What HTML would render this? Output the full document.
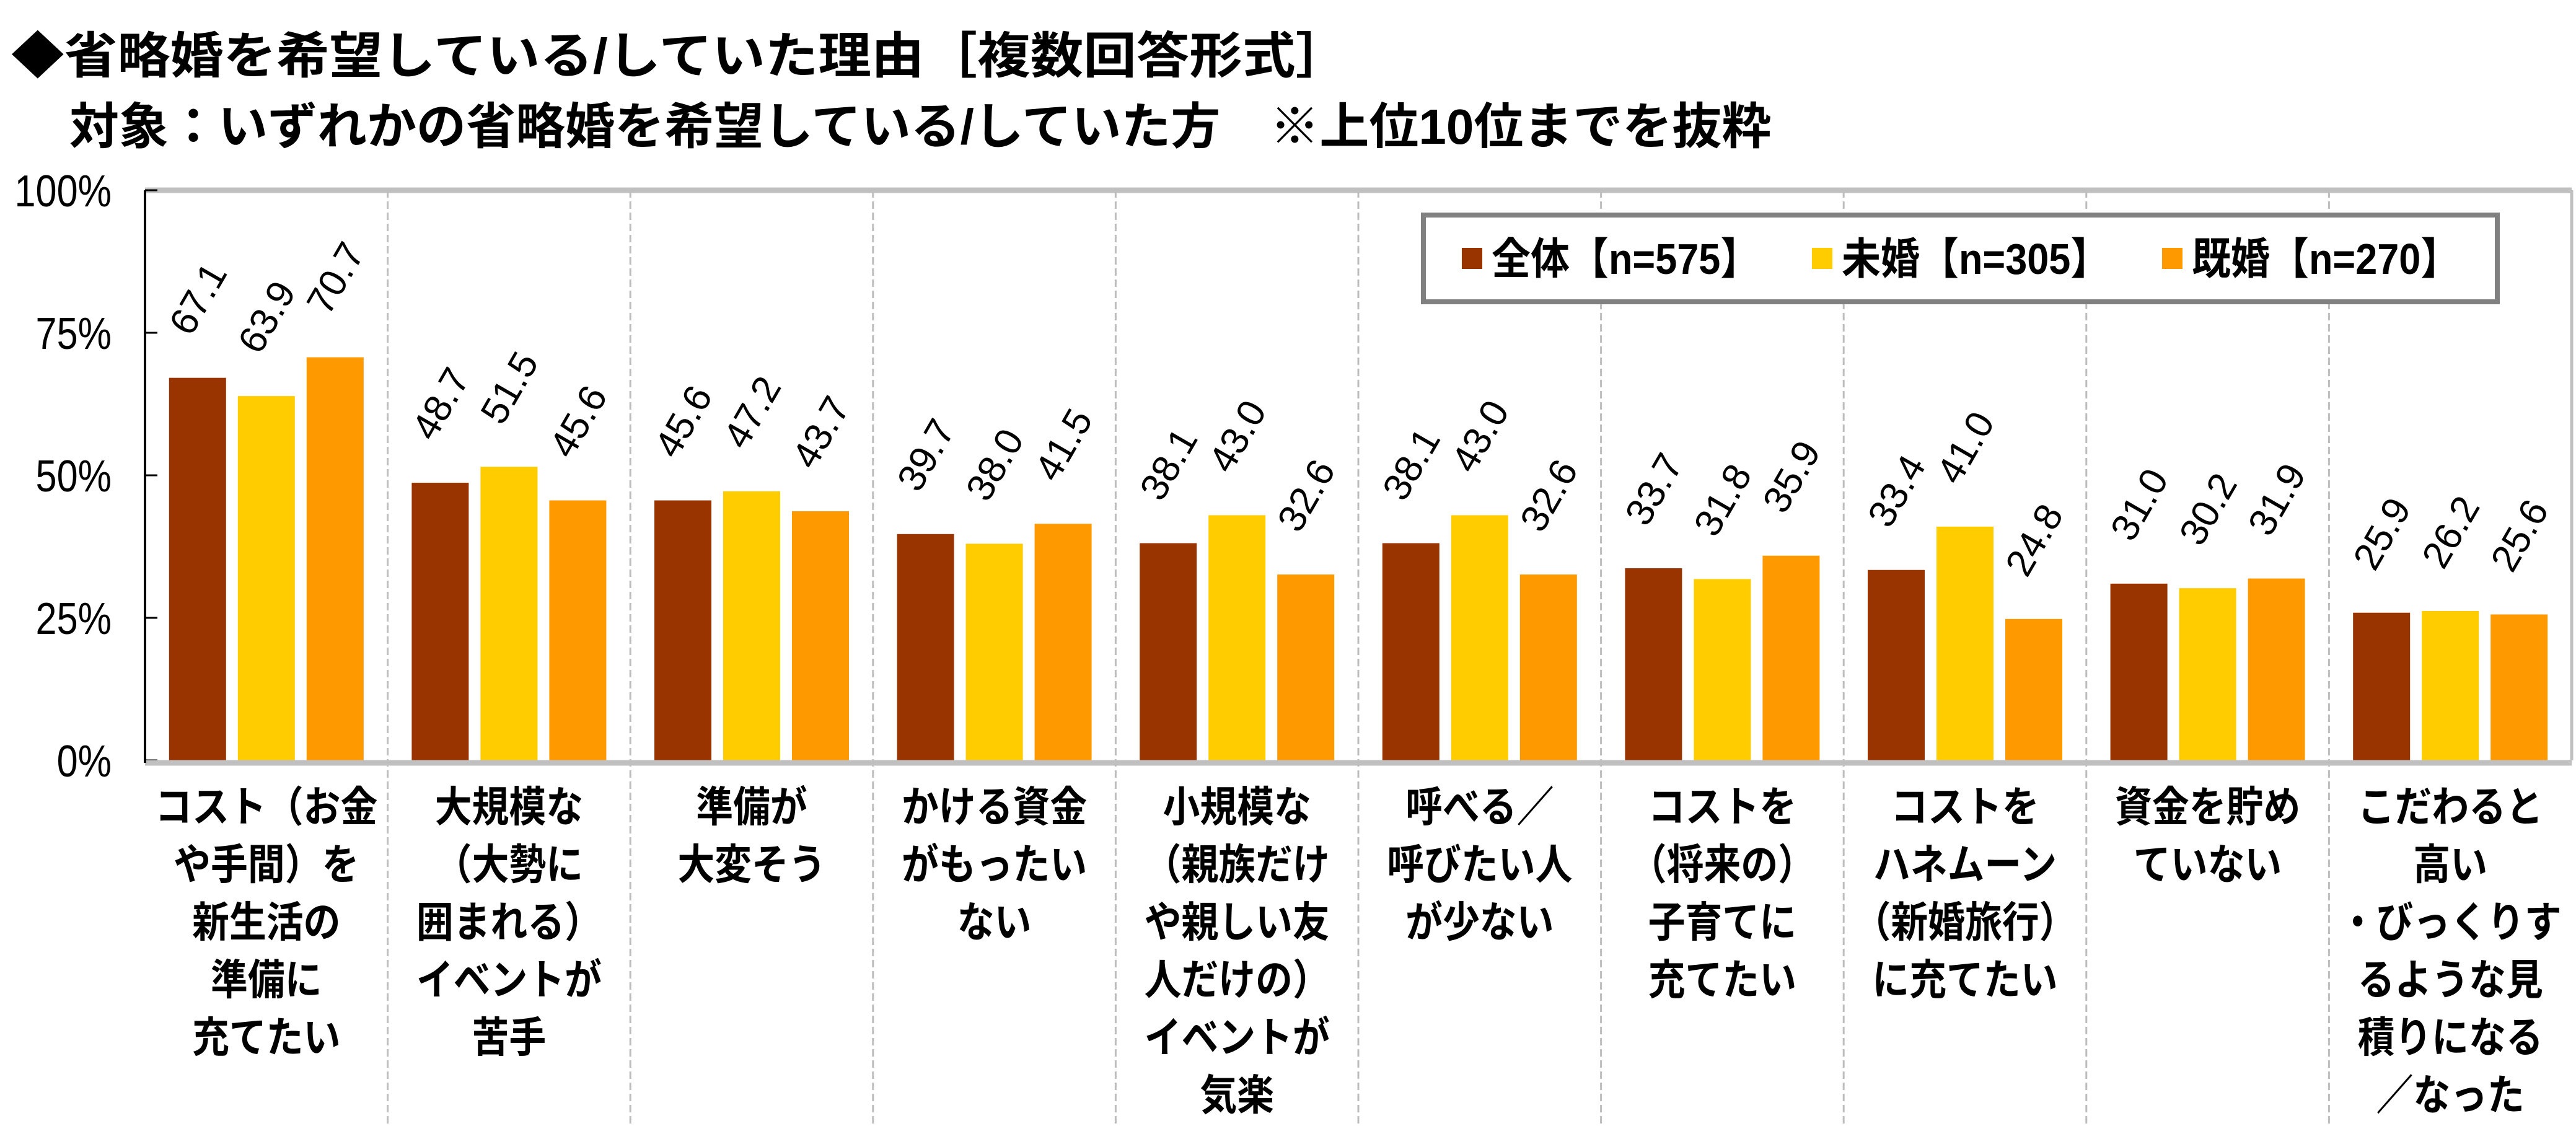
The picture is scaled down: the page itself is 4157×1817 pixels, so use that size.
<!DOCTYPE html>
<html><head><meta charset="utf-8">
<style>
html,body{margin:0;padding:0;background:#fff;}
svg{display:block;}
text{font-family:"Liberation Sans","Noto Sans CJK JP",sans-serif;font-weight:bold;fill:#000;}
text.nb{font-weight:normal;}
</style></head>
<body>
<svg id="chart" width="4157" height="1817" viewBox="0 0 4157 1817" xmlns="http://www.w3.org/2000/svg">
  <g>
    <text x="18" y="118" font-size="80" transform="translate(18,0) scale(1.07,1) translate(-18,0)">◆省略婚を希望している/していた理由［複数回答形式］</text>
    <text x="112" y="232" font-size="80" transform="translate(112,0) scale(1.0,1) translate(-112,0)">対象：いずれかの省略婚を希望している/していた方　※上位10位までを抜粋</text>
  </g>
  <g id="plot"></g>
  <g id="legend">
    <rect x="2297" y="347" width="1733" height="140" fill="#fff" stroke="#808080" stroke-width="8"/>
  </g>
</svg>
<script>
const categories = [
  ["コスト（お金","や手間）を","新生活の","準備に","充てたい"],
  ["大規模な","（大勢に","囲まれる）","イベントが","苦手"],
  ["準備が","大変そう"],
  ["かける資金","がもったい","ない"],
  ["小規模な","（親族だけ","や親しい友","人だけの）","イベントが","気楽"],
  ["呼べる／","呼びたい人","が少ない"],
  ["コストを","（将来の）","子育てに","充てたい"],
  ["コストを","ハネムーン","（新婚旅行）","に充てたい"],
  ["資金を貯め","ていない"],
  ["こだわると","高い","・びっくりす","るような見","積りになる","／なった"]
];
const seriesNames = ["全体【n=575】","未婚【n=305】","既婚【n=270】"];
const seriesColors = ["#993300","#FFCC00","#FF9900"];
const valuesAll = [67.1,48.7,45.6,39.7,38.1,38.1,33.7,33.4,31.0,25.9];
const valuesSingle = [63.9,51.5,47.2,38.0,43.0,43.0,31.8,41.0,30.2,26.2];
const valuesMarried = [70.7,45.6,43.7,41.5,32.6,32.6,35.9,24.8,31.9,25.6];
const yTicks = [0,25,50,75,100];
const yTickLabels = ["0%","25%","50%","75%","100%"];

const NS = "http://www.w3.org/2000/svg";
const plotG = document.getElementById('plot');
const legendG = document.getElementById('legend');
const X0 = 234, X1 = 4150, Y0 = 1227, Y1 = 307;
const catW = (X1 - X0) / categories.length;
const barW = 92, gap = 19;
function yScale(v){ return Y0 - (v/100)*(Y0-Y1); }
function xBand(i){ return X0 + i*catW; }
function el(tag, attrs, parent){
  const e = document.createElementNS(NS, tag);
  for (const k in attrs) e.setAttribute(k, attrs[k]);
  parent.appendChild(e);
  return e;
}

for (let i=1;i<categories.length;i++){
  const x = xBand(i);
  const d = el('line',{x1:x,y1:Y1,x2:x,y2:1817,stroke:'#bdbdbd','stroke-width':3,'stroke-dasharray':'12,6'},plotG);
  
  
}
const topBorder = el('line',{x1:X0,y1:Y1,x2:X1,y2:Y1,stroke:'#c0c0c0','stroke-width':9},plotG);


const rightBorder = el('line',{x1:X1,y1:Y1,x2:X1,y2:Y0,stroke:'#c0c0c0','stroke-width':5},plotG);



yTicks.forEach((t,i)=>{
  const y = yScale(t);
  const tk = el('line',{x1:X0,y1:y,x2:X0+20,y2:y,stroke:'#000','stroke-width':3},plotG);
  
  
  const lb = el('text',{class:'nb',x:0,y:0,'font-size':72,'text-anchor':'end',transform:`translate(180,${y+26}) scale(0.85,1)`},plotG);
  lb.textContent = yTickLabels[i];
  
  
});

const series = [valuesAll, valuesSingle, valuesMarried];
const groupW = 3*barW + 2*gap;
categories.forEach((cat,i)=>{
  const gx = xBand(i) + (catW-groupW)/2;
  series.forEach((vals,s)=>{
    const x = gx + s*(barW+gap);
    const y = yScale(vals[i]);
    const r = el('rect',{x:x,y:y,width:barW,height:Y0-y,fill:seriesColors[s]},plotG);
    
    
    const cx = x + barW/2, cy = y - 128;
    const t = el('text',{class:'nb',x:0,y:0,'font-size':62,'text-anchor':'middle',transform:`translate(${cx},${cy}) rotate(-60) translate(0,22)`},plotG);
    t.textContent = vals[i].toFixed(1);
    
    
  });
  const cxm = xBand(i) + catW/2;
  cat.forEach((line,j)=>{
    const t = el('text',{x:0,y:0,'font-size':68,'text-anchor':'middle',transform:`translate(${cxm},${1326+j*93}) scale(0.88,1)`},plotG);
    t.textContent = line;
    
    
  });
});
const xAxis = el('line',{x1:X0,y1:Y0+4,x2:X1,y2:Y0+4,stroke:'#c0c0c0','stroke-width':9},plotG);


const yAxis = el('line',{x1:X0,y1:Y1,x2:X0,y2:Y0+4,stroke:'#000','stroke-width':4},plotG);



const legX = [2359, 2924, 3489];
seriesNames.forEach((n,s)=>{
  const sw = el('rect',{x:legX[s],y:400,width:33,height:34,fill:seriesColors[s]},legendG);
  
  
  const t = el('text',{x:0,y:0,'font-size':70,transform:`translate(${legX[s]+48},442) scale(0.9,1)`},legendG);
  t.textContent = n;
  
  
});
</script>
</body></html>
